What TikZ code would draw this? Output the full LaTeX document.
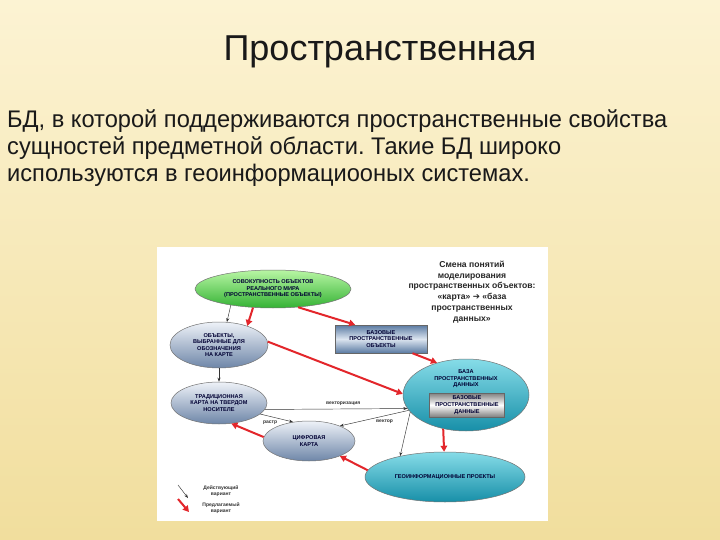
\documentclass[tikz,border=0pt]{standalone}
\usepackage{fontspec}
\setmainfont{Liberation Sans}
\newfontfamily\bodyfont[FakeStretch=0.985]{Liberation Sans}
\newfontfamily\dejavu{DejaVu Sans}
\usetikzlibrary{arrows.meta,shapes.geometric,calc}
\frenchspacing
\definecolor{bgtop}{HTML}{FCF3D3}
\definecolor{bgbot}{HTML}{F1DE9D}
\definecolor{grtop}{HTML}{B8F6A4}
\definecolor{grbot}{HTML}{34B234}
\definecolor{gbtop}{HTML}{EEF2F8}
\definecolor{gbbot}{HTML}{6E86A8}
\definecolor{cytop}{HTML}{86DCE8}
\definecolor{cybot}{HTML}{178FA8}
\definecolor{redar}{HTML}{E3262B}
\definecolor{steel}{HTML}{5A7AA2}
\definecolor{steellt}{HTML}{DCE5F0}
\begin{document}
\begin{tikzpicture}[x=1pt,y=-1pt,
  lbl/.style={font=\fontsize{5.6}{6.6}\selectfont\bfseries, align=center, text=black!80!blue},
  ell/.style={ellipse, draw=black!55, line width=0.5pt, inner sep=0pt, lbl},
  greenell/.style={ell, top color=grtop, bottom color=grbot},
  greyell/.style={ell, top color=gbtop, bottom color=gbbot},
  cyanell/.style={ell, top color=cytop, bottom color=cybot},
  steelbox/.style={draw=black!60, line width=0.5pt, inner sep=0pt, lbl, top color=steel, bottom color=steel, middle color=steellt},
  greybox/.style={draw=black!60, line width=0.5pt, inner sep=0pt, lbl, top color=black!50, bottom color=black!50, middle color=white},
  curarrow/.style={draw=black!80, line width=0.45pt, -{Stealth[length=4pt,width=3pt]}},
  proparrow/.style={draw=redar, line width=2pt, -{Triangle[length=6pt,width=6.5pt]}},
  edgelbl/.style={font=\fontsize{5}{6}\selectfont\bfseries, text=black!80},
  bodytxt/.style={anchor=base west, font=\bodyfont\fontsize{24}{28}\selectfont, text=black!90, inner sep=0pt},
]
\useasboundingbox (0,0) rectangle (720,540);
% background
\path[top color=bgtop, bottom color=bgbot] (0,0) rectangle (720,540);
% texts
\node[anchor=base, font=\fontsize{36}{40}\selectfont, text=black!90] (title) at (380,60.5) {Пространственная};
\node[bodytxt] (body1) at (7,127.5) {БД, в которой поддерживаются пространственные свойства};
\node[bodytxt] (body2) at (7,155) {сущностей предметной области. Такие БД широко};
\node[bodytxt] (body3) at (7,182) {используются в геоинформациооных системах.};
% white panel
\path[fill=white] (157,247) rectangle (548,521);
% nodes
\node[greenell, minimum width=156pt, minimum height=38pt] (real) at (273,289) {СОВОКУПНОСТЬ ОБЪЕКТОВ\\РЕАЛЬНОГО МИРА\\(ПРОСТРАНСТВЕННЫЕ ОБЪЕКТЫ)};
\node[greyell, minimum width=98pt, minimum height=46pt] (sel) at (219,345) {ОБЪЕКТЫ,\\ВЫБРАННЫЕ ДЛЯ\\ОБОЗНАЧЕНИЯ\\НА КАРТЕ};
\node[steelbox, minimum width=92pt, minimum height=28pt] (bso) at (381,339) {БАЗОВЫЕ\\ПРОСТРАНСТВЕННЫЕ\\ОБЪЕКТЫ};
\node[greyell, minimum width=96pt, minimum height=42pt] (trad) at (219,403) {ТРАДИЦИОННАЯ\\КАРТА НА ТВЕРДОМ\\НОСИТЕЛЕ};
\node[greyell, minimum width=92pt, minimum height=40pt] (digit) at (309,441) {ЦИФРОВАЯ\\КАРТА};
\node[cyanell, minimum width=126pt, minimum height=72pt] (db) at (466,395) {};
\node[lbl] (dbt) at (466,379) {БАЗА\\ПРОСТРАНСТВЕННЫХ\\ДАННЫХ};
\node[greybox, minimum width=75pt, minimum height=24pt] (dbin) at (467,405) {БАЗОВЫЕ\\ПРОСТРАНСТВЕННЫЕ\\ДАННЫЕ};
\node[cyanell, minimum width=160pt, minimum height=50pt] (geo) at (445,477) {ГЕОИНФОРМАЦИОННЫЕ ПРОЕКТЫ};
\node[font=\fontsize{8.6}{10.8}\selectfont\bfseries, align=center, text=black!85] (note) at (472,292) {Смена понятий\\моделирования\\пространственных объектов:\\«карта» {\dejavu\bfseries ➔} «база\\пространственных\\данных»};
% current (black) connectors
\draw[curarrow] (real.201) -- (sel.71);
\draw[curarrow] (sel.south) -- (trad.north);
\draw[curarrow] (trad.345) -- node[edgelbl, pos=0.3, below=1pt] (lraster) {растр} (digit.130);
\draw[curarrow] (trad.352) -- node[edgelbl, pos=0.55, above=0pt] (lvectz) {векторизация} (db.193);
\draw[curarrow] (db.195) -- node[edgelbl, pos=0.35, below=0pt] (lvect) {вектор} (digit.26);
\draw[curarrow] (db.197) -- (geo.155);
% proposed (red) connectors
\draw[proparrow] (real.223) -- (sel.34);
\draw[proparrow] (real.324) -- ($(bso.north west)!0.22!(bso.north east)$);
\draw[proparrow] (sel.4) -- (db.179);
\draw[proparrow] ($(bso.south west)!0.84!(bso.south east)$) -- (db.132);
\draw[proparrow] (db.236) -- (geo.92);
\draw[proparrow] (geo.175) -- (digit.334);
\draw[proparrow] (digit.175) -- (trad.301);
% legend
\coordinate (la1) at (178,485);
\coordinate (lb1) at (188,498);
\coordinate (la2) at (178,499);
\coordinate (lb2) at (189,512);
\draw[curarrow] (la1) -- (lb1);
\draw[proparrow] (la2) -- (lb2);
\node[edgelbl, align=center] (leg1) at (221,491) {Действующий\\вариант};
\node[edgelbl, align=center] (leg2) at (221,508) {Предлагаемый\\вариант};
\end{tikzpicture}
\end{document}
